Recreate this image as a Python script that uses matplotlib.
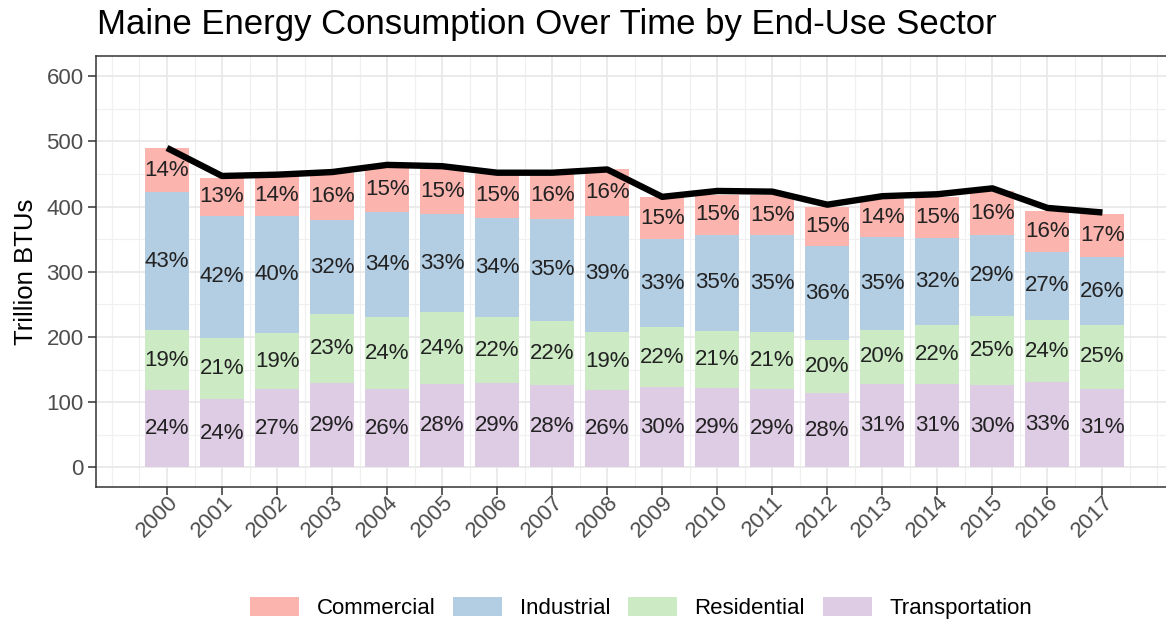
import numpy as np
import matplotlib
matplotlib.use("Agg")
import matplotlib.pyplot as plt
import matplotlib.transforms as mtransforms
from matplotlib.patches import Patch
from matplotlib.ticker import MultipleLocator

plt.rcParams['font.family'] = ['Liberation Sans', 'DejaVu Sans']

years = list(range(2000, 2018))
# trillion BTUs per sector
transportation = [118, 105, 120, 130, 120, 128, 130, 126, 118, 123, 122, 120, 114, 128, 128, 127, 131, 121]
residential = [93, 94, 86, 105, 111, 110, 100, 99, 90, 92, 88, 88, 81, 83, 91, 106, 95, 98]
industrial = [211, 187, 180, 144, 160, 151, 153, 156, 178, 135, 147, 148, 145, 143, 133, 123, 105, 103]
commercial = [68, 58, 62, 73, 71, 68, 67, 72, 72, 64, 61, 62, 60, 58, 62, 68, 62, 67]
# share labels shown in each segment
pct_transportation = [24, 24, 27, 29, 26, 28, 29, 28, 26, 30, 29, 29, 28, 31, 31, 30, 33, 31]
pct_residential = [19, 21, 19, 23, 24, 24, 22, 22, 19, 22, 21, 21, 20, 20, 22, 25, 24, 25]
pct_industrial = [43, 42, 40, 32, 34, 33, 34, 35, 39, 33, 35, 35, 36, 35, 32, 29, 27, 26]
pct_commercial = [14, 13, 14, 16, 15, 15, 15, 16, 16, 15, 15, 15, 15, 14, 15, 16, 16, 17]
# total consumption line
total = [490, 447, 449, 453, 464, 462, 452, 452, 457, 415, 424, 423, 403, 416, 419, 428, 398, 391]

sectors = ["Transportation", "Residential", "Industrial", "Commercial"]
values = [transportation, residential, industrial, commercial]
pcts = [pct_transportation, pct_residential, pct_industrial, pct_commercial]
colors = {"Commercial": "#FBB4AE", "Industrial": "#B3CDE3",
          "Residential": "#CCEBC5", "Transportation": "#DECBE4"}

W, H = 1166, 624
fig = plt.figure(figsize=(W / 100, H / 100), dpi=100)
fig.patch.set_facecolor("white")

# axes placed in pixel terms
left, right, top, bottom = 96, 1174, 56, 487
ax = fig.add_axes([left / W, 1 - bottom / H, (right - left) / W, (bottom - top) / H])

x = np.array(years)
base = np.zeros(len(years))
for name, vals, pc in zip(sectors, values, pcts):
    vals = np.array(vals)
    ax.bar(x, vals, bottom=base, width=0.8, color=colors[name], linewidth=0, zorder=2)
    for xi, b, v, p in zip(x, base, vals, pc):
        ax.text(xi, b + v / 2, f"{p}%", ha="center", va="center",
                fontsize=16, color="#222222", zorder=5)
    base = base + vals

ax.plot(x, total, color="black", linewidth=4.6, solid_joinstyle="round",
        solid_capstyle="butt", zorder=4)

ax.set_xlim(1998.71, 2018.3)
ax.set_ylim(-30, 631)
ax.set_xticks(years)
ax.set_xticklabels([str(y) for y in years])
ax.xaxis.set_minor_locator(MultipleLocator(0.5))
ax.set_yticks(range(0, 601, 100))
ax.yaxis.set_minor_locator(MultipleLocator(50))
ax.grid(True, which="major", color="#E8E8E8", linewidth=1.2, zorder=0)
ax.grid(True, which="minor", color="#F0F0F0", linewidth=0.9, zorder=0)
ax.set_axisbelow(True)
ax.tick_params(which="minor", length=0)
ax.tick_params(which="major", length=6, width=1.1, color="#333333",
               labelsize=16, labelcolor="#4D4D4D", pad=3)
for s in ax.spines.values():
    s.set_color("#333333")
    s.set_linewidth(1.1)

offset = mtransforms.ScaledTranslation(8 / 100, 0, fig.dpi_scale_trans)
for lab in ax.get_xticklabels():
    lab.set_rotation(45)
    lab.set_ha("right")
    lab.set_va("center")
    lab.set_rotation_mode("anchor")
    lab.set_transform(lab.get_transform() + offset)

ax.set_ylabel("Trillion BTUs", fontsize=18.5, color="black", labelpad=6)

fig.text(97 / W, 1 - 34 / H, "Maine Energy Consumption Over Time by End-Use Sector",
         fontsize=25, color="black", ha="left", va="baseline")

handles = [Patch(facecolor=colors[n], edgecolor="none") for n in
           ["Commercial", "Industrial", "Residential", "Transportation"]]
fig.legend(handles, ["Commercial", "Industrial", "Residential", "Transportation"],
           loc="center", bbox_to_anchor=(641 / W, 1 - 608 / H), ncol=4, frameon=False,
           fontsize=16, handlelength=2.2, handleheight=0.9, handletextpad=0.8,
           columnspacing=0.8)

fig.savefig("out.png", dpi=100, facecolor="white")
